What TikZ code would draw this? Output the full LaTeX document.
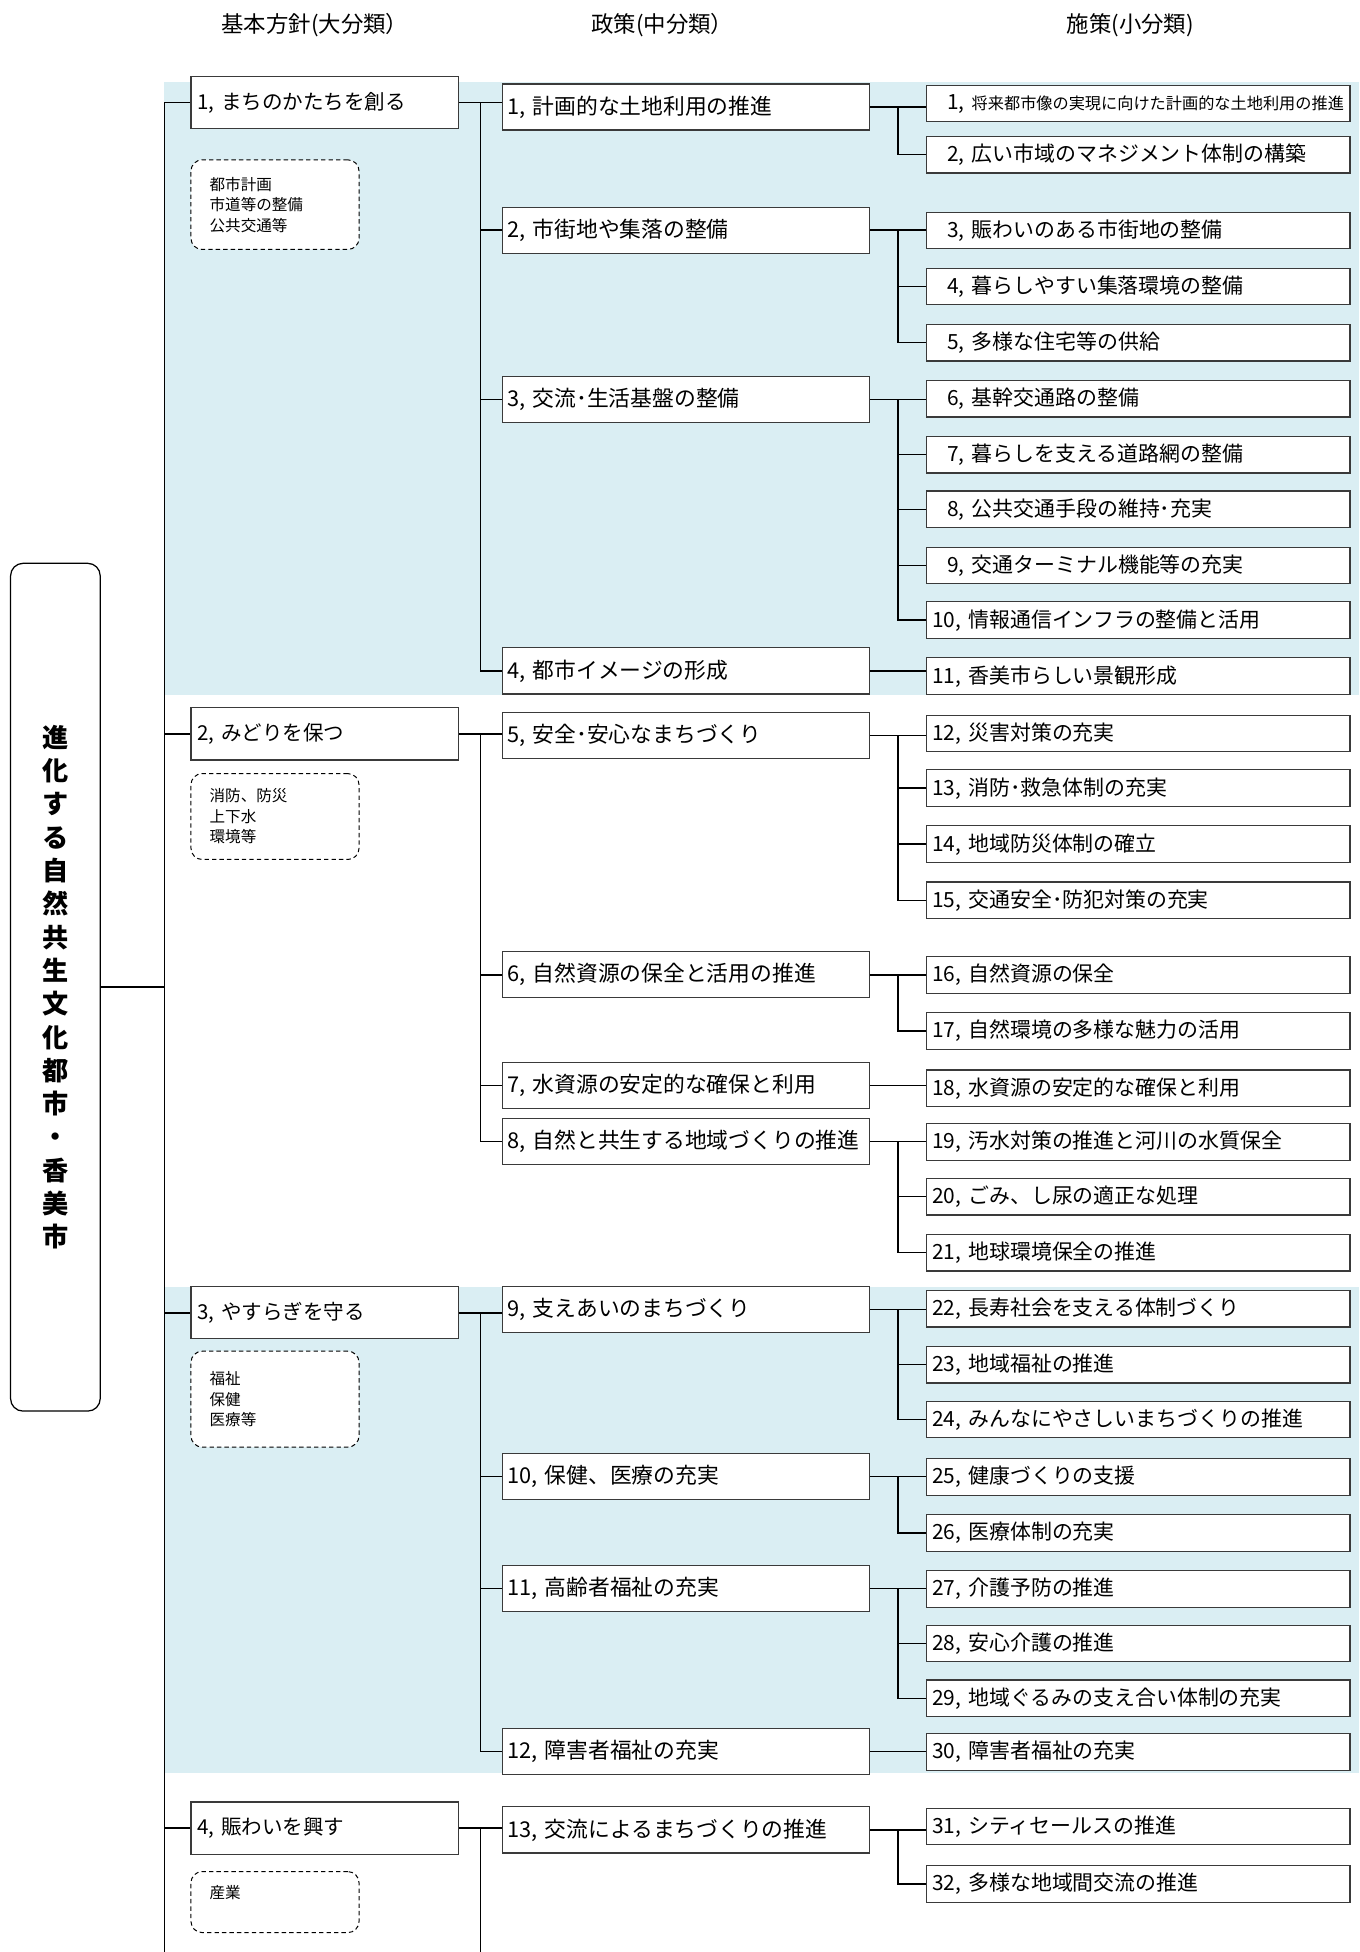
\documentclass[tikz,border=0pt]{standalone}
\usepackage{fontspec}
\setmainfont{Noto Sans CJK JP}
\usetikzlibrary{calc}
\definecolor{bandblue}{HTML}{DAEEF3}
\definecolor{bord}{HTML}{3A3A3A}
\newcommand\fanout[3]{%
  \draw[conn] (#1.east) -- (#2.west |- #1.east);
  \coordinate (j#1) at ($(#1.east)!0.5!(#2.west |- #1.east)$);
  \foreach \k in {#3} {\draw[conn] (j#1) |- (\k.west);}
}
\tikzset{
  conn/.style={line width=1.3pt, black},
  boxbase/.style={draw=bord, line width=0.9pt, fill=white, anchor=north west, inner ysep=0pt, align=left},
  lone/.style={boxbase, minimum width=215pt, minimum height=42pt, inner xsep=5pt, text width=205pt, font=\fontsize{16.5}{19}\selectfont},
  ltwo/.style={boxbase, minimum width=295pt, minimum height=37pt, inner xsep=4pt, text width=287pt, font=\fontsize{17.5}{20}\selectfont},
  lthree/.style={boxbase, minimum width=340pt, minimum height=29.5pt, inner xsep=4.5pt, text width=331pt, font=\fontsize{16.8}{19}\selectfont},
  note/.style={draw=black, dashed, dash pattern=on 3.5pt off 2.5pt, line width=0.8pt, rounded corners=9pt, fill=white, anchor=north west, minimum width=135pt, inner xsep=15pt, inner ysep=0pt, text width=105pt, align=left, font=\fontsize{12.5}{16.5}\selectfont},
  hdr/.style={font=\fontsize{18}{20}\selectfont, inner sep=0pt},
}
\newcommand\ind{\hspace*{12pt}}
\begin{document}
\begin{tikzpicture}[x=1pt,y=-1pt]
\useasboundingbox (0,0) rectangle (1092,1568);
\fill[white] (0,0) rectangle (1092,1568);
% bands
\fill[bandblue] (132,66) rectangle (1092,558);
\fill[bandblue] (132,1034) rectangle (1092,1424);
% headers
\node[hdr] (h1) at (253,20) {基本方針(大分類）};
\node[hdr] (h2) at (532,20) {政策(中分類）};
\node[hdr] (h3) at (908,20) {施策(小分類)};
% root
\node[draw=black, line width=1pt, rounded corners=10pt, anchor=north west, minimum width=72pt, minimum height=681pt, inner sep=0pt, text width=24pt, align=center, font=\bfseries\fontsize{21}{26.75}\selectfont] (root) at (8,452)
 {進\\化\\す\\る\\自\\然\\共\\生\\文\\化\\都\\市\\・\\香\\美\\市};
% level 1
\node[lone] (a1) at (153,61) {1, まちのかたちを創る};
\node[lone] (a2) at (153,568) {2, みどりを保つ};
\node[lone] (a3) at (153,1033) {3, やすらぎを守る};
\node[lone] (a4) at (153,1447) {4, 賑わいを興す};
% notes
\node[note, minimum height=72pt] (d1) at (153,128) {都市計画\\市道等の整備\\公共交通等};
\node[note, minimum height=69pt] (d2) at (153,621) {消防、防災\\上下水\\環境等};
\node[note, minimum height=77pt] (d3) at (153,1085) {福祉\\保健\\医療等};
\node[note, minimum height=49pt] (d4) at (153,1503) {産業\\\mbox{}};
% level 2
\node[ltwo] (b1) at (403,67) {1, 計画的な土地利用の推進};
\node[ltwo] (b2) at (403,166) {2, 市街地や集落の整備};
\node[ltwo] (b3) at (403,302) {3, 交流･生活基盤の整備};
\node[ltwo] (b4) at (403,520) {4, 都市イメージの形成};
\node[ltwo] (b5) at (403,572) {5, 安全･安心なまちづくり};
\node[ltwo] (b6) at (403,764) {6, 自然資源の保全と活用の推進};
\node[ltwo] (b7) at (403,853) {7, 水資源の安定的な確保と利用};
\node[ltwo] (b8) at (403,898) {8, 自然と共生する地域づくりの推進};
\node[ltwo] (b9) at (403,1033) {9, 支えあいのまちづくり};
\node[ltwo] (b10) at (403,1167) {10, 保健、医療の充実};
\node[ltwo] (b11) at (403,1257) {11, 高齢者福祉の充実};
\node[ltwo] (b12) at (403,1388) {12, 障害者福祉の充実};
\node[ltwo] (b13) at (403,1451) {13, 交流によるまちづくりの推進};
% level 3
\node[lthree] (c1) at (744,68) {\ind 1, {\fontsize{13}{15}\selectfont 将来都市像の実現に向けた計画的な土地利用の推進}};
\node[lthree] (c2) at (744,109) {\ind 2, 広い市域のマネジメント体制の構築};
\node[lthree] (c3) at (744,170) {\ind 3, 賑わいのある市街地の整備};
\node[lthree] (c4) at (744,215) {\ind 4, 暮らしやすい集落環境の整備};
\node[lthree] (c5) at (744,260) {\ind 5, 多様な住宅等の供給};
\node[lthree] (c6) at (744,305) {\ind 6, 基幹交通路の整備};
\node[lthree] (c7) at (744,350) {\ind 7, 暮らしを支える道路網の整備};
\node[lthree] (c8) at (744,394) {\ind 8, 公共交通手段の維持･充実};
\node[lthree] (c9) at (744,439) {\ind 9, 交通ターミナル機能等の充実};
\node[lthree] (c10) at (744,483) {10, 情報通信インフラの整備と活用};
\node[lthree] (c11) at (744,528) {11, 香美市らしい景観形成};
\node[lthree] (c12) at (744,574) {12, 災害対策の充実};
\node[lthree] (c13) at (744,618) {13, 消防･救急体制の充実};
\node[lthree] (c14) at (744,663) {14, 地域防災体制の確立};
\node[lthree] (c15) at (744,708) {15, 交通安全･防犯対策の充実};
\node[lthree] (c16) at (744,768) {16, 自然資源の保全};
\node[lthree] (c17) at (744,813) {17, 自然環境の多様な魅力の活用};
\node[lthree] (c18) at (744,859) {18, 水資源の安定的な確保と利用};
\node[lthree] (c19) at (744,902) {19, 汚水対策の推進と河川の水質保全};
\node[lthree] (c20) at (744,946) {20, ごみ、し尿の適正な処理};
\node[lthree] (c21) at (744,991) {21, 地球環境保全の推進};
\node[lthree] (c22) at (744,1036) {22, 長寿社会を支える体制づくり};
\node[lthree] (c23) at (744,1081) {23, 地域福祉の推進};
\node[lthree] (c24) at (744,1125) {24, みんなにやさしいまちづくりの推進};
\node[lthree] (c25) at (744,1171) {25, 健康づくりの支援};
\node[lthree] (c26) at (744,1216) {26, 医療体制の充実};
\node[lthree] (c27) at (744,1261) {27, 介護予防の推進};
\node[lthree] (c28) at (744,1305) {28, 安心介護の推進};
\node[lthree] (c29) at (744,1349) {29, 地域ぐるみの支え合い体制の充実};
\node[lthree] (c30) at (744,1392) {30, 障害者福祉の充実};
\node[lthree] (c31) at (744,1452) {31, シティセールスの推進};
\node[lthree] (c32) at (744,1498) {32, 多様な地域間交流の推進};
% trunk
\coordinate (tx) at (132,0);
\coordinate (bot) at (0,1568);
\draw[conn] (a1.west -| tx) -- (tx |- bot);
\foreach \i in {1,2,3,4} {\draw[conn] (a\i.west -| tx) -- (a\i.west);}
\draw[conn] (root.east) -- (root.east -| tx);
% level 1 -> level 2
\fanout{a1}{b1}{b2,b3,b4}
\fanout{a2}{b5}{b6,b7,b8}
\fanout{a3}{b9}{b10,b11,b12}
\draw[conn] (a4.east) -- (b13.west |- a4.east);
\coordinate (ja4) at ($(a4.east)!0.5!(b13.west |- a4.east)$);
\draw[conn] (ja4) -- (ja4 |- bot);
% level 2 -> level 3
\fanout{b1}{c1}{c2}
\fanout{b2}{c3}{c4,c5}
\fanout{b3}{c6}{c7,c8,c9,c10}
\draw[conn] (b4.east) -- (c11.west |- b4.east);
\fanout{b5}{c12}{c13,c14,c15}
\fanout{b6}{c16}{c17}
\draw[conn] (b7.east) -- (c18.west |- b7.east);
\fanout{b8}{c19}{c20,c21}
\fanout{b9}{c22}{c23,c24}
\fanout{b10}{c25}{c26}
\fanout{b11}{c27}{c28,c29}
\draw[conn] (b12.east) -- (c30.west |- b12.east);
\fanout{b13}{c31}{c32}
\end{tikzpicture}
\end{document}
